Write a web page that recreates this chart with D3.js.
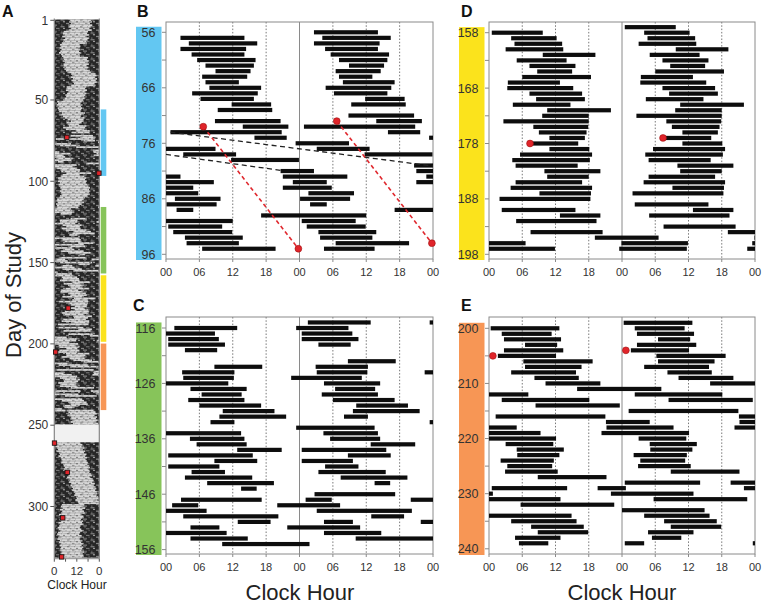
<!DOCTYPE html>
<html><head><meta charset="utf-8">
<script src="https://cdn.jsdelivr.net/npm/d3@7"></script>
<style>
body{margin:0;background:#fff;}
text{font-family:"Liberation Sans",Arial,Helvetica,sans-serif;}
</style></head><body>
<svg id="chart" width="763" height="605" xmlns="http://www.w3.org/2000/svg"></svg>
<script>
// ---------------- DATA ----------------
// Sleep episodes: [day, startHour, endHour]  (endHour may exceed 24 = runs into next day)
const sleepB = [
 [57,2.6,14.1],[58,4.1,16.4],[59,2.6,14.4],[60,4.6,14.1],[61,5.6,16.1],[62,7.1,15.8],
 [63,8.9,15.2],[64,6.5,14.6],[65,7.1,13.1],[66,7.8,17.1],[67,4.7,16.5],[68,6.2,15.8],
 [69,11.8,18.9],[70,9.3,19.1],[72,8.8,20.6],[73,13.8,22.0],[74,0.8,20.8],[75,15.9,21.7],
 [76,23.3,32.9],[78,3.1,12.6],[79,11.7,23.9],[81,20.6,26.6],[82,21.0,32.6],[83,22.8,28.9],
 [84,21.0,29.8],[86,1.6,9.8],[87,0.1,9.1],[88,1.9,4.9],[89,17.1,36.0],[91,0.4,10.1],
 [92,1.3,11.9],[93,3.4,13.8],[94,3.7,13.1],[95,6.5,19.7],[96,4.4,13.5]
];
const sleepC = [
 [116,1.5,12.8],[116,23.4,32.8],[118,0.4,9.5],[119,0.4,10.6],[120,3.4,9.2],[123,8.7,17.3],
 [124,2.9,12.3],[125,3.1,12.2],[125,22.5,35.2],[127,4.4,14.5],[128,6.4,13.6],[129,4.0,14.1],
 [130,6.0,17.1],[131,10.2,19.5],[132,9.6,21.6],[133,8.0,12.3],[134,23.4,37.5],[136,4.3,14.1],
 [137,5.5,14.5],[138,12.8,20.8],[139,0.4,15.6],[140,8.7,16.4],[141,0.4,9.6],[142,4.6,10.6],
 [143,3.4,15.5],[144,7.4,19.4],[145,13.5,16.3],[147,2.7,17.2],[148,1.1,5.8],[148,20.0,31.3],
 [150,3.1,20.2],[151,12.9,18.8],[152,4.4,9.6],[152,21.8,34.9],[154,4.4,14.7],[155,10.1,25.8]
];
const sleepD = [
 [158,0.5,9.7],[159,4.0,12.2],[160,4.6,13.2],[161,3.0,13.4],[162,9.7,19.2],[163,5.0,14.0],
 [164,7.3,15.6],[165,8.7,15.0],[166,6.0,18.4],[167,3.4,12.8],[168,3.3,15.2],[169,7.3,16.8],
 [170,8.5,17.3],[171,4.3,14.7],[172,10.5,22.0],[173,9.6,18.0],[174,2.6,18.0],[175,8.0,17.9],
 [176,9.0,17.6],[177,10.9,17.3],[178,7.6,16.1],[179,10.9,18.1],[180,5.6,18.6],[181,4.2,18.2],
 [182,4.8,16.0],[183,10.0,20.1],[184,10.5,18.0],[185,4.8,16.8],[186,3.9,18.6],[187,9.1,18.4],
 [188,1.9,18.3],[190,2.3,15.6],[191,12.8,20.1],[192,4.9,19.4],[194,7.5,20.5],[195,19.1,30.6],
 [196,23.9,35.9],[197,23.5,35.7],[198,22.6,32.0]
];
const sleepE = [
 [200,0.3,12.7],[201,2.3,11.3],[202,2.7,13.0],[203,6.5,12.3],[204,2.7,13.4],[205,1.6,12.1],
 [206,6.2,18.7],[207,6.5,16.7],[208,4.0,15.7],[209,8.2,16.2],[210,10.2,20.1],[211,15.9,31.1],
 [213,2.3,18.1],[214,8.4,23.6],[216,1.2,21.0],[217,21.1,29.0],[218,21.2,33.3],[219,20.3,36.1],
 [221,3.0,11.6],[222,5.0,13.5],[223,5.1,12.7],[224,2.1,11.7],[225,3.3,11.4],[226,2.9,12.4],
 [227,8.8,21.2],[229,0.5,14.1],[229,19.6,24.7],[230,22.0,36.9],[232,5.7,22.6],[234,0.0,14.9],
 [235,4.0,15.8],[236,7.6,17.1],[237,8.8,17.9],[238,4.7,12.9],[239,5.4,10.7],[240,0.5,4.0],
 [240,23.6,30.0]
];
// Panel A: days outside the zoomed panels (onset / offset hours, one per day)
const aOnset1to56 = [8.5,8,9,8.2,7.5,8.8,7.9, 5,4.6,5.5,4.2,5.8,4.9,5.2,4, 3,3.5,2.8,3.8,3.2,2.5,3.6,4.1,
 4.8,5.2,4.5,5.6,4.9,5.1,6,5.4,6.2,7, 9,9.5,8.8,10,9.2,9.8,10.5,9, 6.6,7,6.2,7.4,6.8,5.9,6.3,5.5,4.8,
 1.5,2,1.2,2.6,1.8,2.2];
const aOffset1to56 = [19.5,20,19,20.2,19.4,18.8,20, 18,17.5,18.4,17.2,18.6,17.8,16.9,17.5, 13.5,14,12.8,13.9,13.2,14.4,13,13.8,
 18,17.4,18.3,17.8,18.5,17.2,18.1,17.6,18.9,19.5, 22,22.5,21.8,22.8,22.1,22.6,21.5,22, 17,16.5,17.4,16.2,17.1,16.6,15.8,16.2,15.5,
 14.6,14,15,14.2,14.8,14.4];
const aOnset97to115 = [3.5,2,2.4,1.8,3,2.2,2.6,3.2,3.8,2.9,3.4,4,3.1,2.7,1.5,1.2,1.8,1,1.4];
const aOffset97to115 = [16,17,16.4,17.2,16.8,17.5,18.2,19,18.5,19.2,18.4,18.9,17.8,16.5,15.5,15,15.8,14.6,13.5];
const aDay157 = [[157,0.8,9.4]];
const aOnset241to249 = [6.6,7.5,8.2,7,9,8.5,9.6,8.8,10];
const aOffset241to249 = [21,22,22.6,21.5,22.8,22.2,23,22.4,23.5];
const aOnset261to331 = [0.3,1,0.6,1.5,2,1.2,2.5,3,2.2,3.4,3.8,4.2,3.6,4.8,5,5.6,5.2,
 6.9,6.2,7,7.5,6.8,8,8.4,7.7,9,8.6,9.3,10,9.5,10.4,11,10.6,11.5,12,11.2,12.5,13,
 4,3.5,4.5,3,4.2,3.8,2.5,4.5,3.2,2.8,3.6,2.2,3,2.6,1.8,2.4,3.1,2,1.5,2.7,2.2,1.6,3,2.5,3.3,2.8,3.6,3.2,2.9,4,3.4,3.9,3.5];
const aOffset261to331 = [14,15,14.5,16,15.2,16.5,15.8,17,16.4,17.5,16.8,17.2,18,17.6,18.4,19,18.2,
 19,18.6,19.5,20,19.2,20.5,21,20.2,21.5,21,22,22.4,21.8,22.6,23,22.5,23.4,23.8,23,24,24.5,
 16,15.5,16.4,15,15.8,16.2,14.5,15.6,15,14.2,15.4,14.8,15.2,14,13.6,14.4,15,13.8,13.2,14.6,14,13.5,15,14.3,15.2,14.6,15.5,14.9,14.4,15.8,15.1,15.6,15];
const aGapDays = [250,260];       // no recording
const aLastDay = 331;
// Phase markers (red dots): day, clock hour
const markerDays  = [73, 95, 178, 205, 261, 279, 307, 331];
const markerHours = [6.7, 23.8, 7.4, 0.7, 0.1, 6.9, 4.5, 3.9];
// Dashed drift lines in panel B: [hour(0-48), row]
const driftLine1 = [[0.8,74.0],[48,80.1]];
const driftLine2 = [[0,78.0],[20.8,80.9]];
// Axis tick labels
const hourTickLabels = ["00","06","12","18","00","06","12","18","00"];
const aDayTicks = [1,50,100,150,200,250,300];
const aHourTicks = [0,6,12,18,24];
const aHourLabels = ["0","","12","","0"];

// ---------------- LAYOUT ----------------
const svg = d3.select("#chart");
const panels = [
 {L:"B", start:56, first:56, last:95, data:sleepB, color:"#63c7f2", x0:166, x1:433, yTop:22, yBot:259, yS:32.3, yE:254.3, lx:137, ly:17},
 {L:"C", start:116, first:115, last:155, data:sleepC, color:"#87c45a", x0:166, x1:433, yTop:317, yBot:554, yS:328, yE:549.6, lx:133, ly:311},
 {L:"D", start:158, first:157, last:197, data:sleepD, color:"#fbe31c", x0:489, x1:755, yTop:22, yBot:259, yS:32.7, yE:254.3, lx:461, ly:17},
 {L:"E", start:200, first:199, last:239, data:sleepE, color:"#f79655", x0:489, x1:755, yTop:317, yBot:554, yS:328.3, yE:548.8, lx:461, ly:311}
];
const gray = "#8a8a8a";

panels.forEach(p => {
  const g = svg.append("g");
  const x = d3.scaleLinear().domain([0,48]).range([p.x0,p.x1]);
  const y = d3.scaleLinear().domain([p.start,p.start+40]).range([p.yS,p.yE]);
  g.append("rect").attr("x",p.x0-30).attr("width",25.5)
    .attr("y",y(p.start-1)).attr("height",p.yBot+1-y(p.start-1)).attr("fill",p.color);
  d3.range(p.start,p.start+41,10).forEach(v=>{
    g.append("text").attr("x",p.x0-10.5).attr("y",y(v)+4.5).attr("text-anchor","end")
     .attr("font-size",12.5).attr("fill","#333").text(v);
  });
  [6,12,18,30,36,42].forEach(h=>{
    g.append("line").attr("x1",x(h)).attr("x2",x(h)).attr("y1",p.yTop).attr("y2",p.yBot)
     .attr("stroke","#555").attr("stroke-width",0.8).attr("stroke-dasharray","1.5,1.8");
  });
  g.append("line").attr("x1",x(24)).attr("x2",x(24)).attr("y1",p.yTop).attr("y2",p.yBot)
   .attr("stroke",gray).attr("stroke-width",1);
  g.append("rect").attr("x",x(0)).attr("y",p.yTop).attr("width",x(48)-x(0)).attr("height",p.yBot-p.yTop)
   .attr("fill","none").attr("stroke",gray).attr("stroke-width",1);
  d3.range(p.start,p.start+41,5).forEach(v=>{
    g.append("line").attr("x1",p.x0-4).attr("x2",p.x0).attr("y1",y(v)).attr("y2",y(v))
     .attr("stroke",gray).attr("stroke-width",1);
  });
  hourTickLabels.forEach((t,i)=>{
    g.append("line").attr("x1",x(i*6)).attr("x2",x(i*6)).attr("y1",p.yBot).attr("y2",p.yBot+3)
     .attr("stroke",gray);
    g.append("text").attr("x",x(i*6)).attr("y",p.yBot+17).attr("text-anchor","middle")
     .attr("font-size",11).attr("fill","#333").text(t);
  });
  const segs = [];
  d3.range(p.first,p.last+1).forEach(r=>{
    const w0 = r*24, w1 = r*24+48;
    p.data.forEach(e=>{
      const a = e[0]*24+e[1], b = e[0]*24+e[2];
      const s = Math.max(a,w0), t = Math.min(b,w1);
      if (t>s) segs.push({r, s:s-w0, t:t-w0});
    });
  });
  g.selectAll("rect.bar").data(segs).enter().append("rect").attr("class","bar")
   .attr("x",d=>x(d.s)).attr("width",d=>x(d.t)-x(d.s))
   .attr("y",d=>y(d.r)-2.1).attr("height",4.2).attr("fill","#0d0d0d");
  svg.append("text").attr("x",p.lx).attr("y",p.ly).attr("font-size",16).attr("font-weight","bold")
     .attr("fill","#111").text(p.L);
  p.x = x; p.y = y; p.g = g;
});

(function(){
  const p = panels[0];
  const line = d3.line().x(d=>p.x(d[0])).y(d=>p.y(d[1]));
  [driftLine1, driftLine2].forEach(l=>{
    p.g.append("path").attr("d",line(l)).attr("fill","none").attr("stroke","#222")
      .attr("stroke-width",1.3).attr("stroke-dasharray","5,3.5");
  });
  const i0 = markerDays.indexOf(73), i1 = markerDays.indexOf(95);
  const left = [[markerHours[i0],markerDays[i0]],[markerHours[i1],markerDays[i1]]];
  const right = left.map(d=>[d[0]+24,d[1]-1]);
  [left,right].forEach(l=>{
    p.g.append("path").attr("d",line(l)).attr("fill","none").attr("stroke","#e0282e")
      .attr("stroke-width",1.6).attr("stroke-dasharray","4,3");
  });
})();
panels.forEach(p=>{
  markerDays.forEach((d,i)=>{
    const h = markerHours[i];
    [[h,d],[h+24,d-1]].forEach(pt=>{
      if (pt[1]>=p.first && pt[1]<=p.last) {
        p.g.append("circle").attr("cx",p.x(pt[0])).attr("cy",p.y(pt[1])).attr("r",3.4)
          .attr("fill","#e0242a").attr("stroke","#a01010").attr("stroke-width",0.6);
      }
    });
  });
});

[[300,600],[622,600]].forEach(c=>{
  svg.append("text").attr("x",c[0]).attr("y",c[1]).attr("text-anchor","middle")
    .attr("font-size",22).attr("fill","#222").text("Clock Hour");
});

// ---------------- PANEL A ----------------
(function(){
  const defs = svg.append("defs");
  const dp = defs.append("pattern").attr("id","darkPat").attr("patternUnits","userSpaceOnUse")
     .attr("width",15).attr("height",6.5);
  dp.append("rect").attr("width",15).attr("height",6.5).attr("fill","#262626");
  [[0.5,0.3,4,"#9c9c9c"],[9,0.3,2,"#6e6e6e"],[3,1.9,2,"#bdbdbd"],[11,1.9,3.5,"#8a8a8a"],
   [6,3.6,3,"#a8a8a8"],[13.5,3.6,1.2,"#777"],[1,5.2,1.5,"#7a7a7a"],[8,5.2,4,"#9e9e9e"]].forEach(s=>
    dp.append("rect").attr("x",s[0]).attr("y",s[1]).attr("width",s[2]).attr("height",0.9).attr("fill",s[3]));
  const lp = defs.append("pattern").attr("id","lightPat").attr("patternUnits","userSpaceOnUse")
     .attr("width",13).attr("height",6.5);
  lp.append("rect").attr("width",13).attr("height",6.5).attr("fill","#d8d8d8");
  [[2,0.3,2.5,"#777"],[9,0.3,1,"#999"],[5,1.9,1.5,"#888"],[11,1.9,2,"#6a6a6a"],
   [0.5,3.6,1.2,"#999"],[7,3.6,2.5,"#7a7a7a"],[3.5,5.2,2,"#8c8c8c"],[10,5.2,1,"#aaa"]].forEach(s=>
    lp.append("rect").attr("x",s[0]).attr("y",s[1]).attr("width",s[2]).attr("height",0.9).attr("fill",s[3]));

  const g = svg.append("g");
  const xA = d3.scaleLinear().domain([0,24]).range([54.3,99.3]);
  const yA = d3.scaleLinear().domain([1,331]).range([20.3,556.9]);
  const rh = yA(2)-yA(1);
  const top = yA(1)-rh/2, bot = yA(aLastDay)+rh/2;
  const all = [].concat(sleepB, sleepC, sleepD, sleepE, aDay157);
  aOnset1to56.forEach((v,i)=>all.push([1+i, v, aOffset1to56[i]]));
  aOnset97to115.forEach((v,i)=>all.push([97+i, v, aOffset97to115[i]]));
  aOnset241to249.forEach((v,i)=>all.push([241+i, v, aOffset241to249[i]]));
  aOnset261to331.forEach((v,i)=>all.push([261+i, v, aOffset261to331[i]]));
  g.append("rect").attr("x",xA(0)).attr("y",top).attr("width",xA(24)-xA(0)).attr("height",bot-top)
   .attr("fill","url(#darkPat)");
  const segs = [];
  all.forEach(e=>{
    const a = e[0]*24+e[1], b = e[0]*24+e[2];
    for (let d=Math.floor(a/24); d*24<b; d++){
      if (d<1 || d>aLastDay || (d>=aGapDays[0] && d<=aGapDays[1])) continue;
      const s = Math.max(a,d*24), t = Math.min(b,d*24+24);
      if (t>s) segs.push({d, s:s-d*24, t:t-d*24});
    }
  });
  g.selectAll("rect.a").data(segs).enter().append("rect")
   .attr("x",d=>xA(d.s)).attr("width",d=>xA(d.t)-xA(d.s))
   .attr("y",d=>yA(d.d)-rh/2).attr("height",rh+0.05).attr("fill","url(#lightPat)");
  g.append("rect").attr("x",xA(0)).attr("width",xA(24)-xA(0))
   .attr("y",yA(aGapDays[0])-rh/2).attr("height",yA(aGapDays[1])-yA(aGapDays[0])+rh)
   .attr("fill","#f1f1f1");
  [0,24].forEach(h=>g.append("line").attr("x1",xA(h)).attr("x2",xA(h)).attr("y1",top-1).attr("y2",bot+1)
     .attr("stroke",gray).attr("stroke-width",1.2));
  g.append("line").attr("x1",xA(0)).attr("x2",xA(24)).attr("y1",bot+1).attr("y2",bot+1).attr("stroke",gray);
  aDayTicks.forEach(v=>{
    g.append("line").attr("x1",xA(0)-4).attr("x2",xA(0)).attr("y1",yA(v)).attr("y2",yA(v)).attr("stroke","#555");
    g.append("text").attr("x",xA(0)-6).attr("y",yA(v)+4.3).attr("text-anchor","end")
     .attr("font-size",12).attr("fill","#333").text(v);
  });
  aHourTicks.forEach((h,i)=>{
    g.append("line").attr("x1",xA(h)).attr("x2",xA(h)).attr("y1",bot+1).attr("y2",bot+4).attr("stroke","#555");
    if (aHourLabels[i]) g.append("text").attr("x",xA(h)).attr("y",bot+17.5).attr("text-anchor","middle")
     .attr("font-size",11.5).attr("fill","#333").text(aHourLabels[i]);
  });
  svg.append("text").attr("x",77).attr("y",589).attr("text-anchor","middle").attr("font-size",12)
     .attr("fill","#222").text("Clock Hour");
  svg.append("text").attr("transform","translate(21,295) rotate(-90)").attr("text-anchor","middle")
     .attr("font-size",22).attr("fill","#222").text("Day of Study");
  panels.forEach(p=>{
    g.append("rect").attr("x",100.7).attr("width",5.6).attr("y",yA(p.start-0.2))
     .attr("height",yA(p.start+40.7)-yA(p.start-0.2)).attr("fill",p.color);
  });
  markerDays.forEach((d,i)=>{
    g.append("rect").attr("x",xA(markerHours[i])-2.2).attr("y",yA(d)-2.2).attr("width",4.4).attr("height",4.4)
     .attr("fill","#e0242a").attr("stroke","#111").attr("stroke-width",0.8);
  });
  svg.append("text").attr("x",2).attr("y",17).attr("font-size",16).attr("font-weight","bold")
     .attr("fill","#111").text("A");
})();
</script>
</body></html>
